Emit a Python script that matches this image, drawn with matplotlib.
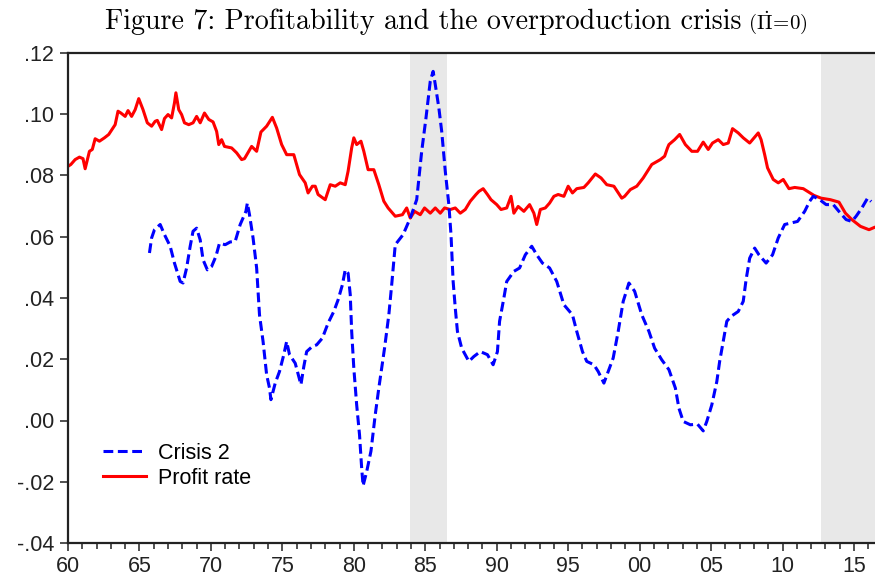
import matplotlib
matplotlib.use("Agg")
import matplotlib.pyplot as plt
from matplotlib.ticker import FuncFormatter, MultipleLocator

# Profit rate (red)
profit_years = [
    1960.0, 1960.2, 1960.5, 1960.8, 1961.05, 1961.2, 1961.5, 1961.7, 1961.9, 1962.2,
    1962.55, 1962.85, 1963.3, 1963.5, 1963.7, 1964.0, 1964.2, 1964.45, 1964.7, 1964.95,
    1965.25, 1965.55, 1965.85, 1966.1, 1966.25, 1966.55, 1966.75, 1967.0, 1967.25, 1967.45,
    1967.55, 1967.75, 1967.95, 1968.15, 1968.45, 1968.75, 1969.0, 1969.25, 1969.55, 1969.85,
    1970.15, 1970.4, 1970.55, 1970.75, 1970.95, 1971.45, 1971.8, 1972.15, 1972.35, 1972.85,
    1973.2, 1973.5, 1973.9, 1974.3, 1974.6, 1974.95, 1975.3, 1975.8, 1976.2, 1976.6,
    1976.8, 1977.1, 1977.3, 1977.5, 1978.0, 1978.35, 1978.7, 1979.05, 1979.4, 1979.6,
    1979.85, 1980.0, 1980.2, 1980.5, 1980.7, 1981.0, 1981.4, 1981.75, 1982.1, 1982.4,
    1982.9, 1983.4, 1983.7, 1983.95, 1984.25, 1984.65, 1984.95, 1985.35, 1985.7, 1986.05,
    1986.35, 1986.75, 1987.1, 1987.45, 1987.8, 1988.15, 1988.55, 1988.75, 1989.05, 1989.35,
    1989.6, 1990.0, 1990.3, 1990.7, 1991.0, 1991.2, 1991.5, 1991.9, 1992.3, 1992.6,
    1992.8, 1993.05, 1993.4, 1993.7, 1994.0, 1994.3, 1994.7, 1995.0, 1995.3, 1995.6,
    1996.1, 1996.4, 1996.9, 1997.3, 1997.7, 1998.2, 1998.75, 1998.95, 1999.35, 1999.8,
    2000.25, 2000.85, 2001.45, 2001.75, 2001.95, 2002.05, 2002.45, 2002.8, 2003.2, 2003.65,
    2004.05, 2004.45, 2004.8, 2005.1, 2005.5, 2005.85, 2006.2, 2006.5, 2006.9, 2007.25,
    2007.7, 2008.3, 2008.5, 2008.75, 2008.95, 2009.35, 2009.7, 2010.05, 2010.45, 2010.85,
    2011.45, 2012.2, 2012.7, 2013.35, 2013.95, 2014.4, 2014.85, 2015.45, 2016.05, 2016.4,
]
profit_rate = [
    0.0830, 0.0836, 0.0852, 0.0860, 0.0855, 0.0822, 0.0879, 0.0885, 0.0920, 0.0912,
    0.0923, 0.0934, 0.0966, 0.1010, 0.1004, 0.0993, 0.1012, 0.0993, 0.1015, 0.1051,
    0.1015, 0.0972, 0.0961, 0.0977, 0.0980, 0.0950, 0.0986, 0.0999, 0.0988, 0.1037,
    0.1070, 0.1015, 0.0999, 0.0972, 0.0966, 0.0972, 0.0993, 0.0972, 0.1004, 0.0983,
    0.0975, 0.0944, 0.0901, 0.0917, 0.0895, 0.0890, 0.0874, 0.0852, 0.0855, 0.0895,
    0.0879, 0.0942, 0.0961, 0.0990, 0.0955, 0.0901, 0.0868, 0.0868, 0.0803, 0.0776,
    0.0743, 0.0765, 0.0765, 0.0738, 0.0721, 0.0770, 0.0765, 0.0776, 0.0770, 0.0814,
    0.0890, 0.0923, 0.0901, 0.0912, 0.0879, 0.0819, 0.0819, 0.0770, 0.0716, 0.0694,
    0.0667, 0.0672, 0.0694, 0.0661, 0.0683, 0.0672, 0.0694, 0.0677, 0.0694, 0.0677,
    0.0694, 0.0689, 0.0694, 0.0677, 0.0689, 0.0716, 0.0738, 0.0748, 0.0757, 0.0738,
    0.0721, 0.0705, 0.0689, 0.0694, 0.0732, 0.0677, 0.0699, 0.0683, 0.0705, 0.0677,
    0.0640, 0.0689, 0.0694, 0.0710, 0.0732, 0.0738, 0.0732, 0.0765, 0.0743, 0.0757,
    0.0761, 0.0776, 0.0805, 0.0792, 0.0770, 0.0765, 0.0726, 0.0732, 0.0754, 0.0765,
    0.0792, 0.0836, 0.0852, 0.0863, 0.0890, 0.0901, 0.0917, 0.0934, 0.0901, 0.0879,
    0.0879, 0.0909, 0.0885, 0.0906, 0.0917, 0.0901, 0.0906, 0.0953, 0.0939, 0.0923,
    0.0906, 0.0939, 0.0917, 0.0868, 0.0825, 0.0787, 0.0776, 0.0787, 0.0757, 0.0761,
    0.0757, 0.0735, 0.0726, 0.0721, 0.0713, 0.0677, 0.0656, 0.0634, 0.0623, 0.0630,
]

# Crisis 2 (blue dashed)
crisis_years = [
    1965.7, 1965.85, 1966.05, 1966.45, 1966.75, 1967.15, 1967.45, 1967.85, 1968.05, 1968.3,
    1968.55, 1968.75, 1969.0, 1969.25, 1969.45, 1969.75, 1970.05, 1970.35, 1970.6, 1971.0,
    1971.35, 1971.7, 1972.05, 1972.45, 1972.55, 1972.7, 1972.95, 1973.2, 1973.4, 1973.65,
    1973.9, 1974.1, 1974.2, 1974.5, 1974.8, 1975.1, 1975.3, 1975.5, 1975.9, 1976.3,
    1976.5, 1976.7, 1977.1, 1977.4, 1977.8, 1978.2, 1978.6, 1978.9, 1979.2, 1979.4,
    1979.6, 1979.75, 1979.85, 1980.0, 1980.2, 1980.4, 1980.55, 1980.65, 1980.9, 1981.2,
    1981.5, 1981.75, 1982.15, 1982.45, 1982.65, 1982.9, 1983.45, 1983.95, 1984.4, 1984.75,
    1985.05, 1985.35, 1985.55, 1985.7, 1985.95, 1986.15, 1986.4, 1986.65, 1986.8, 1986.95,
    1987.1, 1987.25, 1987.55, 1988.05, 1988.4, 1988.85, 1989.35, 1989.75, 1990.05, 1990.2,
    1990.5, 1990.7, 1991.2, 1991.6, 1992.0, 1992.45, 1992.8, 1993.2, 1993.7, 1994.2,
    1994.7, 1995.3, 1995.6, 1996.0, 1996.3, 1996.8, 1997.1, 1997.5, 1997.8, 1998.15,
    1998.5, 1998.85, 1999.25, 1999.65, 2000.15, 2000.65, 2001.05, 2001.55, 2002.05, 2002.5,
    2002.75, 2003.05, 2003.55, 2004.05, 2004.45, 2004.7, 2005.05, 2005.4, 2005.6, 2005.85,
    2006.1, 2006.4, 2006.9, 2007.25, 2007.45, 2007.7, 2008.05, 2008.35, 2008.85, 2009.3,
    2009.7, 2010.15, 2010.6, 2011.05, 2011.55, 2011.9, 2012.15, 2012.6, 2013.05, 2013.55,
    2014.05, 2014.45, 2014.85, 2015.15, 2015.55, 2015.95, 2016.2,
]
crisis_2 = [
    0.0547, 0.0596, 0.0623, 0.0640, 0.0607, 0.0569, 0.0514, 0.0454, 0.0449, 0.0498,
    0.0569, 0.0618, 0.0628, 0.0590, 0.0525, 0.0492, 0.0503, 0.0536, 0.0579, 0.0574,
    0.0583, 0.0585, 0.0640, 0.0683, 0.0710, 0.0672, 0.0596, 0.0498, 0.0345, 0.0258,
    0.0149, 0.0106, 0.0068, 0.0122, 0.0160, 0.0215, 0.0258, 0.0215, 0.0187, 0.0117,
    0.0176, 0.0225, 0.0242, 0.0247, 0.0269, 0.0318, 0.0356, 0.0394, 0.0443, 0.0492,
    0.0481, 0.0411, 0.0291, 0.0171, 0.0051, -0.0047, -0.0156, -0.0213, -0.0167, -0.0100,
    0.0019, 0.0106, 0.0236, 0.0345, 0.0443, 0.0574, 0.0607, 0.0661, 0.0721, 0.0879,
    0.0988, 0.1108, 0.1140, 0.1097, 0.1021, 0.0944, 0.0814, 0.0705, 0.0607, 0.0454,
    0.0367, 0.0291, 0.0236, 0.0193, 0.0209, 0.0225, 0.0215, 0.0182, 0.0225, 0.0324,
    0.0400, 0.0454, 0.0487, 0.0498, 0.0541, 0.0569, 0.0541, 0.0514, 0.0498, 0.0454,
    0.0378, 0.0345, 0.0291, 0.0225, 0.0193, 0.0182, 0.0160, 0.0122, 0.0160, 0.0204,
    0.0291, 0.0389, 0.0449, 0.0422, 0.0345, 0.0291, 0.0236, 0.0198, 0.0166, 0.0106,
    0.0040, -0.0003, -0.0014, -0.0012, -0.0034, -0.0003, 0.0051, 0.0127, 0.0193, 0.0258,
    0.0324, 0.0340, 0.0356, 0.0389, 0.0460, 0.0530, 0.0563, 0.0541, 0.0514, 0.0541,
    0.0596, 0.0640, 0.0645, 0.0650, 0.0683, 0.0716, 0.0732, 0.0721, 0.0705, 0.0705,
    0.0677, 0.0656, 0.0650, 0.0667, 0.0694, 0.0726, 0.0715,
]

# shaded periods
shade_start = [1983.92, 2012.69]
shade_end = [1986.51, 2016.6]

x_min, x_max = 1960.0, 2016.47
y_min, y_max = -0.04, 0.12

plt.rcParams['font.family'] = ['Liberation Sans', 'DejaVu Sans']
plt.rcParams['mathtext.fontset'] = 'cm'

fig = plt.figure(figsize=(8.75, 5.82), dpi=100)
ax = fig.add_axes([68 / 875, 1 - 543 / 582, 1 - 68 / 875, (543 - 53) / 582])

for s, e in zip(shade_start, shade_end):
    ax.axvspan(s, e, color='#e8e8e8', lw=0, zorder=0)

ax.plot(crisis_years, crisis_2, color='#0000ff', lw=2.2, ls=(0, (3.2, 1.5)),
        label='Crisis 2', zorder=3)
ax.plot(profit_years, profit_rate, color='#ff0000', lw=2.2, label='Profit rate', zorder=2)

ax.set_xlim(x_min, x_max)
ax.set_ylim(y_min, y_max)

ax.xaxis.set_major_locator(MultipleLocator(5))
ax.xaxis.set_minor_locator(MultipleLocator(1))
ax.yaxis.set_major_locator(MultipleLocator(0.02))
ax.xaxis.set_major_formatter(FuncFormatter(lambda v, p: f"{int(round(v)) % 100:02d}"))
ax.yaxis.set_major_formatter(
    FuncFormatter(lambda v, p: f"{v:.2f}".replace("0.", ".", 1) if abs(v) > 1e-9 else ".00"))

ax.tick_params(axis='both', which='major', direction='out', length=6, width=1.2,
               color='#333333', labelsize=15.5, labelcolor='#222222')
ax.tick_params(axis='x', which='minor', direction='out', length=4, width=1.2, color='#333333')
ax.tick_params(axis='x', pad=3)
ax.tick_params(axis='y', pad=4)

for side in ['left', 'bottom', 'top']:
    ax.spines[side].set_linewidth(1.6)
    ax.spines[side].set_color('#222222')
ax.spines['right'].set_visible(False)

ax.legend(loc='lower left', bbox_to_anchor=(0.025, 0.08), frameon=False, fontsize=15.5,
          handlelength=2.0, handletextpad=0.55, labelspacing=0.18, borderpad=0.2)

# title in Computer Modern style
t = fig.text(105 / 875, 1 - 29 / 582,
             "Figure 7: Profitability and the overproduction crisis",
             fontsize=20.2, family='cmr10', ha='left', va='baseline')
fig.canvas.draw()
bb = t.get_window_extent()
fig.text((bb.x1 + 7) / fig.bbox.width, 1 - 29 / 582, r"$(\dot{\Pi}\!=\!0)$",
         fontsize=15, ha='left', va='baseline')

fig.savefig("out.png", dpi=100)
